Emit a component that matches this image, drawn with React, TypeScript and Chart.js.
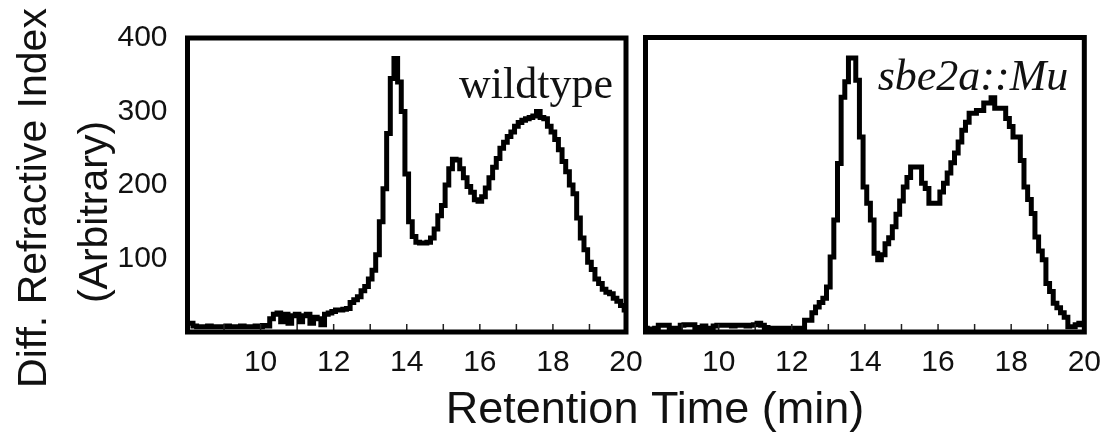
import { useEffect, useRef } from 'react';
import { Chart, registerables } from 'chart.js';

Chart.register(...registerables);

// Sampling grid of the detector trace (minutes)
const timeStart = 8.0;
const timeStep = 0.1;

// Differential refractive index, one reading per 0.1 min from 8.0 to 20.0 min
const wildtypeSignal = [
  12, 12, 8, 7, 7, 7, 8, 7, 7, 7,
  7, 8, 7, 7, 7, 8, 7, 7, 7, 8,
  7, 9, 8, 18, 24, 26, 14, 24, 12, 22,
  24, 14, 22, 24, 12, 20, 18, 10, 24, 26,
  28, 30, 30, 31, 32, 40, 44, 48, 56, 62,
  72, 84, 105, 150, 195, 270, 345, 372, 340, 300,
  215, 150, 130, 122, 121, 121, 122, 128, 140, 158,
  172, 200, 222, 235, 234, 222, 210, 198, 190, 180,
  178, 184, 196, 210, 224, 236, 250, 258, 266, 272,
  280, 285, 288, 290, 292, 294, 300, 292, 290, 280,
  272, 262, 248, 232, 218, 200, 188, 155, 128, 112,
  95, 85, 72, 66, 58, 54, 52, 46, 42, 36,
  30,
];

const mutantSignal = [
  5, 4, 4, 5, 9, 9, 9, 5, 4, 5,
  9, 10, 10, 10, 6, 5, 8, 4, 5, 8,
  9, 9, 9, 9, 8, 9, 9, 9, 8, 9,
  10, 12, 9, 6, 5, 5, 5, 5, 5, 5,
  5, 5, 5, 5, 16, 16, 26, 34, 40, 46,
  61, 102, 152, 229, 319, 340, 372, 372, 342, 265,
  197, 175, 152, 107, 98, 105, 120, 128, 143, 160,
  178, 197, 210, 224, 224, 224, 202, 195, 175, 175,
  175, 190, 202, 216, 230, 243, 258, 274, 285, 297,
  297, 301, 301, 311, 311, 318, 304, 304, 304, 290,
  279, 265, 265, 233, 197, 180, 161, 129, 110, 98,
  66, 55, 39, 33, 26, 20, 7, 7, 10, 12,
  10,
];

const xTickLabels = [10, 12, 14, 16, 18, 20];
const yTickLabels = [100, 200, 300, 400];
const yTitleLines = ['Diff. Refractive Index', '(Arbitrary)'];
const xTitle = 'Retention Time (min)';
const panelNames = ['wildtype', 'sbe2a::Mu'];

const FONT_SANS = "'Liberation Sans', Arial, Helvetica, sans-serif";
const FONT_SERIF = "'Liberation Serif', 'Times New Roman', Times, serif";
const INK = '#111';

function toPoints(values: number[]) {
  return values.map((v, i) => ({ x: +(timeStart + i * timeStep).toFixed(1), y: v }));
}

// Heavy box around each plot plus small inward tick marks on the time axis
const framePlugin = {
  id: 'panelFrame',
  afterDatasetsDraw(chart: any) {
    const { ctx, chartArea: a, scales } = chart;
    const xs = scales.x;
    ctx.save();
    ctx.strokeStyle = '#222';
    ctx.lineWidth = 1.5;
    xs.ticks.forEach((t: any) => {
      if (t.value <= xs.min || t.value >= xs.max) return;
      const px = xs.getPixelForValue(t.value);
      ctx.beginPath();
      ctx.moveTo(px, a.bottom);
      ctx.lineTo(px, a.bottom - 8);
      ctx.stroke();
    });
    ctx.strokeStyle = '#000';
    ctx.lineWidth = 5;
    ctx.strokeRect(a.left, a.top, a.right - a.left, a.bottom - a.top);
    ctx.restore();
  },
};

// Sample name written in the upper right corner of a panel
const panelLabelPlugin = {
  id: 'panelLabel',
  afterDraw(chart: any, _args: any, opts: any) {
    if (!opts || !opts.text) return;
    const { ctx, chartArea: a } = chart;
    ctx.save();
    ctx.fillStyle = INK;
    ctx.font = `${opts.italic ? 'italic ' : ''}${opts.size}px ${FONT_SERIF}`;
    ctx.textAlign = 'right';
    ctx.textBaseline = 'alphabetic';
    ctx.fillText(opts.text, a.right - opts.inset, a.top + opts.baseline);
    ctx.restore();
  },
};

// Shared axis titles: two-line rotated title on the left, time title under both panels
const axisTitlesPlugin = {
  id: 'axisTitles',
  afterDraw(chart: any, _args: any, opts: any) {
    if (!opts || !opts.show) return;
    const { ctx } = chart;
    ctx.save();
    ctx.fillStyle = INK;
    ctx.font = `41px ${FONT_SANS}`;
    ctx.textAlign = 'center';
    ctx.textBaseline = 'alphabetic';
    const rows = [
      { x: 46, y: 198 },
      { x: 107, y: 212 },
    ];
    yTitleLines.forEach((line, i) => {
      ctx.save();
      ctx.translate(rows[i].x, rows[i].y);
      ctx.rotate(-Math.PI / 2);
      ctx.fillText(line, 0, 0);
      ctx.restore();
    });
    ctx.font = `45px ${FONT_SANS}`;
    ctx.fillText(xTitle, 655, 423);
    ctx.restore();
  },
};

function makeConfig(values: number[], opts: {
  showY: boolean;
  padding: { left: number; right: number; top: number; bottom: number };
  label: any;
}) {
  return {
    type: 'line' as const,
    data: {
      datasets: [
        {
          data: toPoints(values),
          borderColor: '#000',
          borderWidth: 5,
          pointRadius: 0,
          stepped: 'middle' as const,
          fill: false,
          tension: 0,
        },
      ],
    },
    options: {
      animation: false as const,
      responsive: false,
      maintainAspectRatio: false,
      events: [],
      layout: { padding: opts.padding },
      plugins: {
        legend: { display: false },
        tooltip: { enabled: false },
        panelLabel: opts.label,
        axisTitles: { show: opts.showY },
      },
      scales: {
        x: {
          type: 'linear' as const,
          min: 8,
          max: 20,
          grid: { display: false, drawTicks: false },
          border: { display: false },
          ticks: {
            stepSize: 1,
            autoSkip: false,
            maxRotation: 0,
            padding: 13,
            color: INK,
            font: { family: FONT_SANS, size: 30 },
            callback: (v: any) => (xTickLabels.includes(Number(v)) ? String(v) : ''),
          },
          afterFit: (s: any) => {
            s.height = 104;
          },
        },
        y: {
          type: 'linear' as const,
          display: opts.showY,
          min: 0,
          max: 400,
          grid: { display: false, drawTicks: false },
          border: { display: false },
          ticks: {
            stepSize: 100,
            padding: 20,
            color: INK,
            font: { family: FONT_SANS, size: 30 },
            callback: (v: any) => (yTickLabels.includes(Number(v)) ? String(v) : ''),
          },
          afterFit: (s: any) => {
            s.width = opts.showY ? 187.5 : 0;
          },
        },
      },
    },
    plugins: [framePlugin, panelLabelPlugin, axisTitlesPlugin],
  };
}

export default function App() {
  const leftRef = useRef<HTMLCanvasElement>(null);
  const rightRef = useRef<HTMLCanvasElement>(null);

  useEffect(() => {
    const left = new Chart(
      leftRef.current as HTMLCanvasElement,
      makeConfig(wildtypeSignal, {
        showY: true,
        padding: { left: 0, right: 1114 - 626, top: 37.5, bottom: 0 },
        label: { text: panelNames[0], italic: false, size: 44, inset: 13, baseline: 59.5 },
      }) as any
    );
    const right = new Chart(
      rightRef.current as HTMLCanvasElement,
      makeConfig(mutantSignal, {
        showY: false,
        padding: { left: 45.5, right: 28, top: 37.5, bottom: 0 },
        label: { text: panelNames[1], italic: true, size: 44, inset: 16, baseline: 52.5 },
      }) as any
    );
    return () => {
      left.destroy();
      right.destroy();
    };
  }, []);

  return (
    <div
      style={{
        position: 'absolute',
        left: 0,
        top: 0,
        width: 1114,
        height: 436,
        background: '#fff',
        overflow: 'hidden',
      }}
    >
      <canvas
        ref={leftRef}
        width={1114}
        height={436}
        style={{ position: 'absolute', left: 0, top: 0 }}
      />
      <canvas
        ref={rightRef}
        width={514}
        height={436}
        style={{ position: 'absolute', left: 600, top: 0 }}
      />
    </div>
  );
}
